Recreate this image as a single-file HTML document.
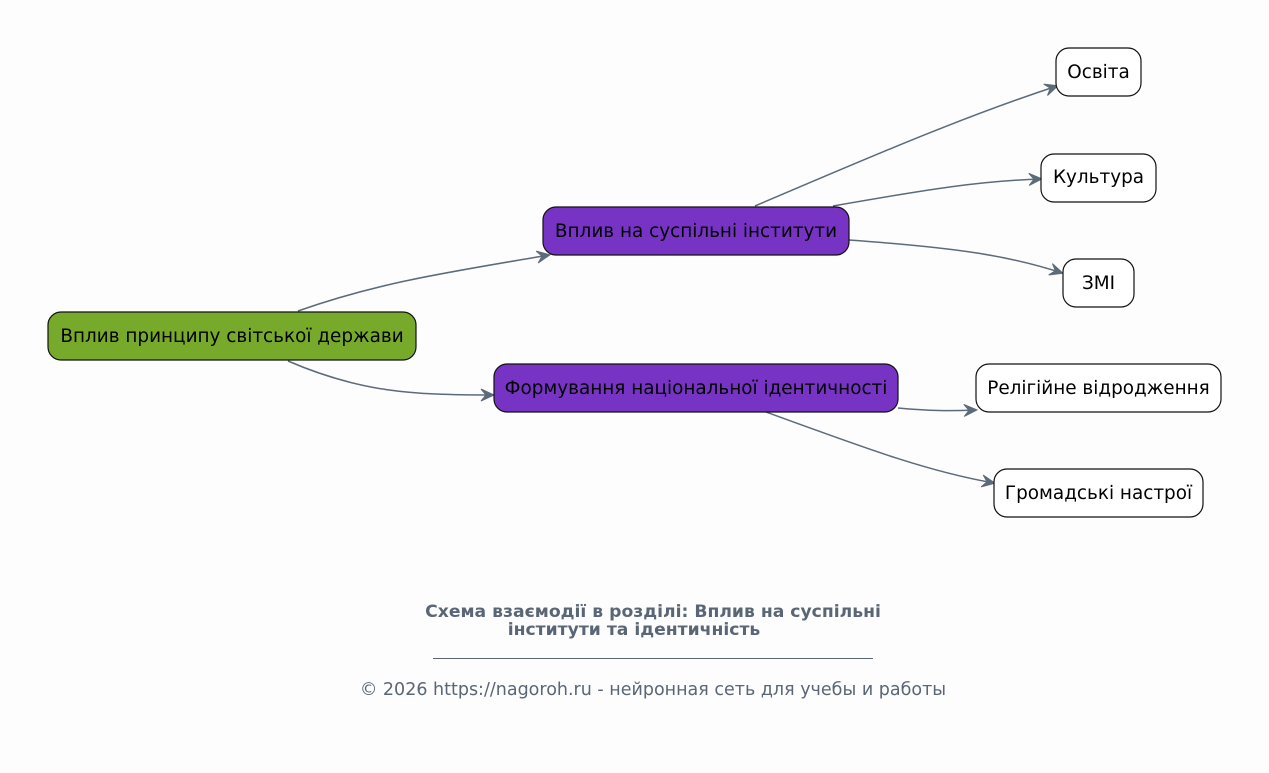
<!DOCTYPE html>
<html><head><meta charset="utf-8"><style>
body{margin:0;background:#fdfdfd;}
svg{display:block;font-family:"DejaVu Sans","Liberation Sans",sans-serif;}
</style></head><body>
<svg width="1269" height="773" viewBox="0 0 1269 773">
<defs><marker id="a" markerWidth="16" markerHeight="16" refX="13" refY="8" orient="auto" markerUnits="userSpaceOnUse"><path d="M1,2 L14,8 L1,14 L6,8 Z" fill="#5c6b7a" stroke="#5c6b7a" stroke-width="1"/></marker></defs>
<g fill="none" stroke="#5c6b7a" stroke-width="1.5" marker-end="url(#a)">
<path d="M298,311 C380,282 450,272 549,255"/>
<path d="M288,361 C360,392 410,395 493,395"/>
<path d="M755,206 C870,157 960,118 1057,86"/>
<path d="M833,206 C930,189 980,181 1041,179"/>
<path d="M849,240 C960,248 1010,256 1062,273"/>
<path d="M898,408 C930,411 950,411 976,410"/>
<path d="M766,412 C870,450 930,472 994,483"/>
</g>
<g stroke="#111" stroke-width="1.2">
<rect x="48" y="312" width="368" height="48" rx="13" fill="#77aa2a"/>
<rect x="543" y="207" width="306" height="48" rx="13" fill="#7734c4"/>
<rect x="494" y="364" width="404" height="48" rx="13" fill="#7734c4"/>
<rect x="1056" y="48" width="85" height="48" rx="13" fill="#fff"/>
<rect x="1041" y="154" width="115" height="48" rx="13" fill="#fff"/>
<rect x="1063" y="259" width="71" height="48" rx="13" fill="#fff"/>
<rect x="976" y="364" width="245" height="48" rx="13" fill="#fff"/>
<rect x="994" y="469" width="209" height="48" rx="13" fill="#fff"/>
</g>
<g font-size="18.4" fill="#000" text-anchor="middle">
<text x="232" y="342">Вплив принципу світської держави</text>
<text x="696" y="237">Вплив на суспільні інститути</text>
<text x="696" y="394">Формування національної ідентичності</text>
<text x="1098.5" y="78">Освіта</text>
<text x="1098.5" y="183">Культура</text>
<text x="1098.5" y="289">ЗМІ</text>
<text x="1098.5" y="394">Релігійне відродження</text>
<text x="1098.5" y="499">Громадські настрої</text>
</g>
<g fill="#5a6676" font-size="17.2" font-weight="bold" text-anchor="middle">
<text x="653" y="617">Схема взаємодії в розділі: Вплив на суспільні</text>
<text x="634" y="635">інститути та ідентичність</text>
</g>
<line x1="433" y1="658.5" x2="873" y2="658.5" stroke="#5a6676" stroke-width="1"/>
<text x="653" y="695" fill="#5a6676" font-size="17.5" text-anchor="middle">© 2026 https://nagoroh.ru - нейронная сеть для учебы и работы</text>
</svg>
</body></html>
